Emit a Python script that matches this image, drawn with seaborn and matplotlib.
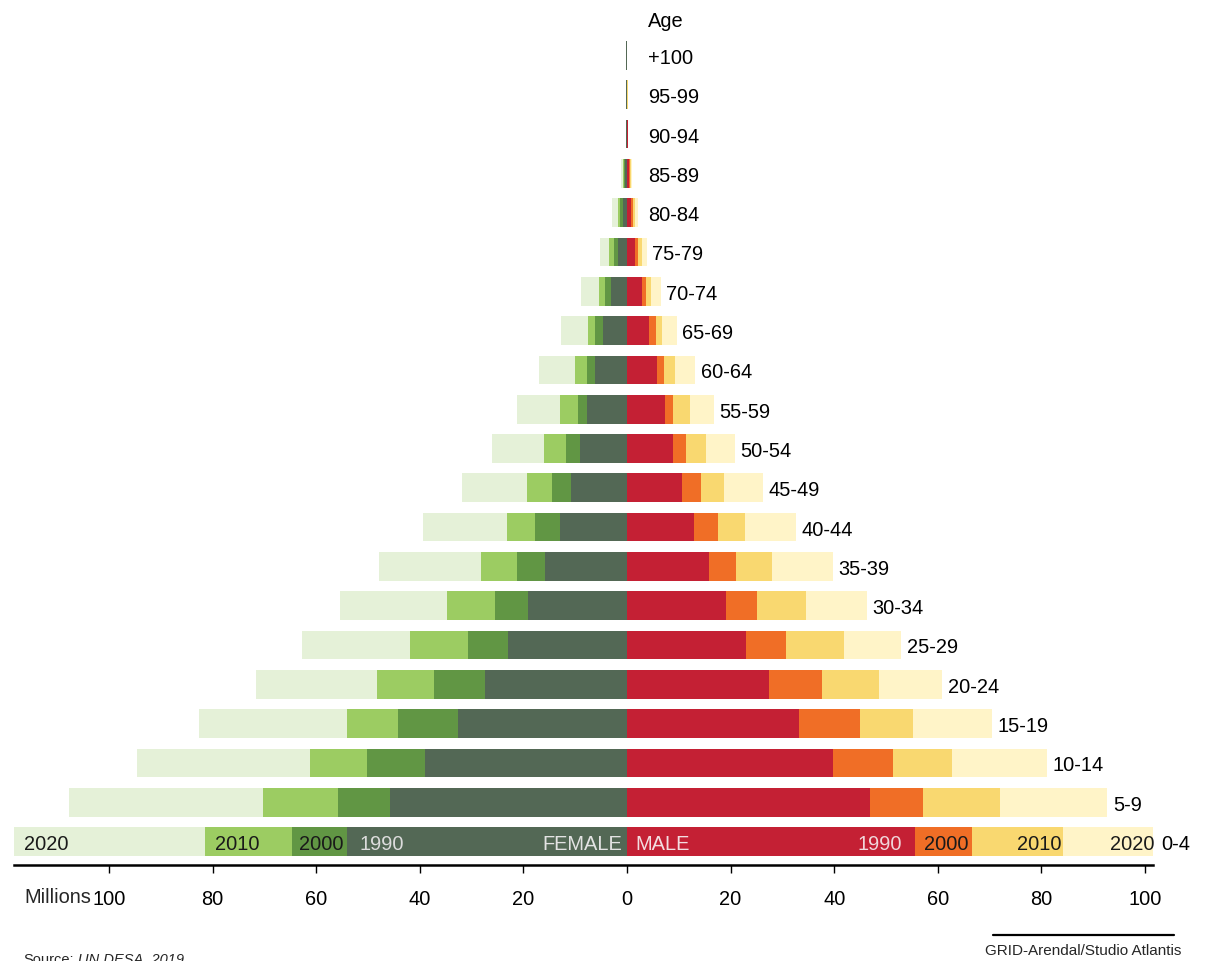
import matplotlib
matplotlib.use("Agg")
import matplotlib.pyplot as plt
import seaborn as sns
import pandas as pd

# grupos de edad, de abajo hacia arriba
ages = ["0-4", "5-9", "10-14", "15-19", "20-24", "25-29", "30-34", "35-39",
        "40-44", "45-49", "50-54", "55-59", "60-64", "65-69", "70-74", "75-79",
        "80-84", "85-89", "90-94", "95-99", "+100"]
years = [1990, 2000, 2010, 2020]

# poblacion en millones
female_1990 = [54.1, 45.8, 39.0, 32.6, 27.4, 23.0, 19.1, 15.85, 12.9, 10.8, 9.1,
               7.7, 6.2, 4.6, 3.1, 1.7, 0.7, 0.3, 0.15, 0.12, 0.1]
female_2000 = [64.7, 55.8, 50.2, 44.2, 37.2, 30.7, 25.5, 21.2, 17.8, 14.5, 11.8,
               9.5, 7.7, 6.2, 4.2, 2.5, 1.3, 0.5, 0.17, 0.13, 0.1]
female_2010 = [81.5, 70.3, 61.2, 54.0, 48.3, 41.9, 34.8, 28.2, 23.2, 19.3, 16.0,
               12.9, 10.0, 7.5, 5.4, 3.4, 1.7, 0.7, 0.2, 0.15, 0.12]
female_2020 = [118.4, 107.7, 94.6, 82.6, 71.7, 62.7, 55.4, 47.8, 39.4, 31.9, 26.1,
               21.2, 17.0, 12.7, 8.9, 5.3, 2.9, 1.1, 0.25, 0.18, 0.14]

male_1990 = [55.6, 46.9, 39.7, 33.2, 27.4, 23.0, 19.1, 15.85, 12.9, 10.6, 8.9,
             7.3, 5.8, 4.2, 2.8, 1.5, 0.8, 0.4, 0.1, 0.08, 0.06]
male_2000 = [66.6, 57.2, 51.3, 45.0, 37.6, 30.7, 25.1, 21.0, 17.6, 14.3, 11.4,
             8.9, 7.1, 5.6, 3.6, 2.1, 1.1, 0.6, 0.12, 0.09, 0.07]
male_2010 = [84.1, 72.0, 62.7, 55.2, 48.6, 41.9, 34.6, 28.0, 22.8, 18.7, 15.3,
             12.2, 9.3, 6.8, 4.6, 2.8, 1.5, 0.7, 0.14, 0.1, 0.08]
male_2020 = [102.1, 92.7, 81.1, 70.4, 60.8, 52.9, 46.3, 39.7, 32.6, 26.3, 20.8,
             16.8, 13.1, 9.6, 6.5, 3.8, 2.1, 0.9, 0.16, 0.12, 0.09]

female = {1990: female_1990, 2000: female_2000, 2010: female_2010, 2020: female_2020}
male = {1990: male_1990, 2000: male_2000, 2010: male_2010, 2020: male_2020}

female_colors = {1990: "#536855", 2000: "#619644", 2010: "#9ccc62", 2020: "#e5f1d8"}
male_colors = {1990: "#c42034", 2000: "#f06e26", 2010: "#f9d870", 2020: "#fff4c8"}

sns.set_theme(style="white")
plt.rcParams["font.family"] = ["Liberation Sans", "DejaVu Sans"]

# tabla larga
rows = []
for y in years:
    for i, a in enumerate(ages):
        rows.append({"age": a, "pos": i, "sex": "F", "year": y, "value": -female[y][i]})
        rows.append({"age": a, "pos": i, "sex": "M", "year": y, "value": male[y][i]})
df = pd.DataFrame(rows)

W, H = 1212, 962
fig = plt.figure(figsize=(W / 100, H / 100), dpi=100)
ax = fig.add_axes([14 / W, 96 / H, 1139 / W, 866 / H])

# barras superpuestas: la mas ancha (2020) primero
for y in years[::-1]:
    for sex, colors in (("F", female_colors), ("M", male_colors)):
        sub = df[(df["sex"] == sex) & (df["year"] == y)]
        sns.barplot(data=sub, x="value", y="pos", orient="h", native_scale=True,
                    color=colors[y], saturation=1, width=0.73, linewidth=0,
                    errorbar=None, ax=ax)

ax.set_xlim(-118.34, 101.54)
ax.set_ylim(-0.598, 21.437)
ax.set_xlabel("")
ax.set_ylabel("")
ax.set_yticks([])
ticks = list(range(-100, 101, 20))
ax.set_xticks(ticks)
ax.set_xticklabels([str(abs(t)) for t in ticks])
ax.tick_params(axis="x", direction="out", length=5.8, width=1.0, pad=11.5,
               labelsize=14.4, colors="black", bottom=True)
for s in ["top", "left", "right"]:
    ax.spines[s].set_visible(False)
ax.spines["bottom"].set_linewidth(1.8)
ax.spines["bottom"].set_color("black")

fs = 14.4
dy = -0.05  # pequeño ajuste vertical del texto
# etiquetas de edad
for i, a in enumerate(ages):
    xpos = max(male_2020[i] + 1.1, 4.05)
    ax.text(xpos, i + dy, a, ha="left", va="center", fontsize=fs, color="black")
ax.text(4.05, 20.95 + dy, "Age", ha="left", va="center", fontsize=fs, color="black")

# etiquetas de los anos dentro de la barra 0-4
f_pad = {2020: 1.9, 2010: 1.9, 2000: 1.3, 1990: 2.4}
f_txt = {2020: "#1a1a1a", 2010: "#1a1a1a", 2000: "#1a1a1a", 1990: "#dcdcdc"}
for y in years:
    ax.text(-female[y][0] + f_pad[y], dy, str(y), ha="left", va="center",
            fontsize=fs, color=f_txt[y])
m_pad = {2020: 0.3, 2010: 0.2, 2000: 0.6, 1990: 2.6}
m_txt = {2020: "#1a1a1a", 2010: "#1a1a1a", 2000: "#1a1a1a", 1990: "#f0d6da"}
for y in years:
    ax.text(male[y][0] - m_pad[y], dy, str(y), ha="right", va="center",
            fontsize=fs, color=m_txt[y])
ax.text(-0.97, dy, "FEMALE", ha="right", va="center", fontsize=fs, color="#e3e3e3")
ax.text(1.54, dy, "MALE", ha="left", va="center", fontsize=fs, color="#f3dde0")

# textos del pie
fig.text(24 / W, 1 - 898 / H, "Millions", ha="left", va="center", fontsize=fs)
fig.text(23 / W, 1 - 964 / H, "Source:", ha="left", va="baseline", fontsize=10.5)
fig.text(78 / W, 1 - 964 / H, "UN DESA, 2019", ha="left", va="baseline",
         fontsize=10.5, style="italic")
fig.add_artist(plt.Line2D([993 / W, 1174 / W], [1 - 936 / H, 1 - 936 / H],
                          color="black", linewidth=1.6, transform=fig.transFigure))
fig.text(1083 / W, 1 - 951 / H, "GRID-Arendal/Studio Atlantis", ha="center",
         va="center", fontsize=11)

fig.savefig("out.png", dpi=100)
